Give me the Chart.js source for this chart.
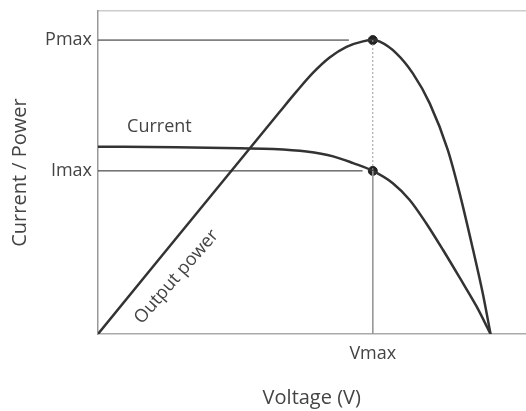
<!DOCTYPE html>
<html>
<head>
<meta charset="utf-8">
<script src="https://cdn.jsdelivr.net/npm/chart.js@4"></script>
<style>
  html, body { margin: 0; padding: 0; background: #fff; overflow: hidden; }
  #wrap { width: 526px; height: 411px; overflow: hidden; }
</style>
</head>
<body>
<div id="wrap"><canvas id="ivChart" width="531" height="411"></canvas></div>
<script>
// values (voltage 0..100 = 0..Voc, y 0..100 = axis height)
const currentV = [0, 20, 36.1, 44.6, 53.1, 59.9, 65, 70, 75.1, 79.4, 83.6, 87.9, 92.1, 96.4, 100];
const currentI = [58, 57.8, 57.5, 57.3, 56.5, 55.0, 52.9, 50.5, 46.7, 41.5, 34.3, 26.0, 17.5, 8.6, 0];
const powerV = [0, 46.3, 50.6, 54.8, 59, 63.3, 67.5, 70, 71.8, 76, 80.2, 84.5, 89.1, 92.1, 95.5, 98, 100];
const powerP = [0, 68.8, 75.1, 80.9, 85.6, 88.9, 90.6, 91, 90.5, 86.9, 80.7, 71.4, 57.0, 43.7, 26.3, 12.7, 0];

const vmax = 70;
const pmax = 91;
const imax = 50.5;
const yTickValues = [pmax, imax];
const yTickLabels = ['Pmax', 'Imax'];
const xTickValues = [vmax];
const xTickLabels = ['Vmax'];

const toXY = (xs, ys) => xs.map((x, i) => ({ x: x, y: ys[i] }));

const curveLabels = {
    id: 'curveLabels',
    afterDatasetsDraw(chart) {
        const ctx = chart.ctx;
        const x = chart.scales.x;
        const y = chart.scales.y;
        ctx.save();
        ctx.fillStyle = '#444';
        ctx.font = '18px "Open Sans"';
        ctx.textBaseline = 'middle';
        ctx.fillText('Current', x.getPixelForValue(7.4), y.getPixelForValue(64.1));
        ctx.translate(x.getPixelForValue(20), y.getPixelForValue(17.7));
        ctx.rotate(-49 * Math.PI / 180);
        ctx.textAlign = 'center';
        ctx.fillText('Output power', 0, 0);
        ctx.restore();
    }
};

const ctx = document.getElementById('ivChart').getContext('2d');
const chart = new Chart(ctx, {
    type: 'line',
    data: {
        datasets: [{
            label: 'Pmax guide',
            data: toXY([0, 63.9], [pmax, pmax]),
            borderColor: '#222',
            borderWidth: 1,
            pointRadius: 0
        }, {
            label: 'Imax guide',
            data: toXY([0, 67.4], [imax, imax]),
            borderColor: '#222',
            borderWidth: 1,
            pointRadius: 0
        }, {
            label: 'Vmax dotted',
            data: toXY([vmax, vmax], [pmax, imax]),
            borderColor: '#999',
            borderWidth: 1,
            borderDash: [2, 2],
            pointRadius: 0
        }, {
            label: 'Vmax guide',
            data: toXY([vmax, vmax], [imax, 0]),
            borderColor: '#999',
            borderWidth: 1,
            pointRadius: 0
        }, {
            label: 'Current',
            data: toXY(currentV, currentI),
            borderColor: '#333',
            borderWidth: 2.5,
            pointRadius: 0,
            cubicInterpolationMode: 'monotone'
        }, {
            label: 'Output power',
            data: toXY(powerV, powerP),
            borderColor: '#333',
            borderWidth: 2.5,
            pointRadius: 0,
            cubicInterpolationMode: 'monotone'
        }, {
            label: 'Max points',
            data: toXY([vmax, vmax], [pmax, imax]),
            showLine: false,
            pointRadius: 4.5,
            pointBackgroundColor: '#222',
            pointBorderColor: '#222'
        }]
    },
    options: {
        responsive: false,
        animation: false,
        layout: { padding: { top: 11, left: 0, right: 0, bottom: 0 } },
        plugins: {
            legend: { display: false },
            tooltip: { enabled: false }
        },
        scales: {
            x: {
                type: 'linear',
                min: 0,
                max: 108.9,
                grid: { display: false, tickLength: 6 },
                border: { color: '#aaa', width: 1.5 },
                afterBuildTicks: (axis) => { axis.ticks = xTickValues.map(v => ({ value: v })); },
                afterFit: (axis) => { axis.height = 77; },
                ticks: {
                    padding: 3,
                    color: '#444',
                    font: { family: 'Open Sans', size: 18 },
                    callback: (v, i) => xTickLabels[i]
                },
                title: {
                    display: true,
                    text: 'Voltage (V)',
                    color: '#444',
                    font: { family: 'Open Sans', size: 20 },
                    padding: { top: 4, bottom: 1 }
                }
            },
            xTop: {
                type: 'linear',
                position: 'top',
                min: 0,
                max: 108.9,
                grid: { display: false },
                border: { color: '#ccc', width: 1.5 },
                ticks: { display: false },
                afterFit: (axis) => { axis.height = 0; }
            },
            y: {
                min: 0,
                max: 100,
                grid: { display: false, tickLength: 6 },
                border: { color: '#999', width: 1.5 },
                afterBuildTicks: (axis) => { axis.ticks = yTickValues.map(v => ({ value: v })); },
                afterFit: (axis) => {
                    axis.width = 98;
                    axis.paddingTop = 0;
                    axis.paddingBottom = 0;
                },
                ticks: {
                    padding: 0,
                    color: '#444',
                    font: { family: 'Open Sans', size: 18 },
                    callback: (v, i) => yTickLabels[i]
                },
                title: {
                    display: true,
                    text: 'Current / Power',
                    color: '#444',
                    font: { family: 'Open Sans', size: 20 },
                    padding: { top: 8, bottom: 4 }
                }
            }
        }
    },
    plugins: [curveLabels]
});
</script>
</body>
</html>
